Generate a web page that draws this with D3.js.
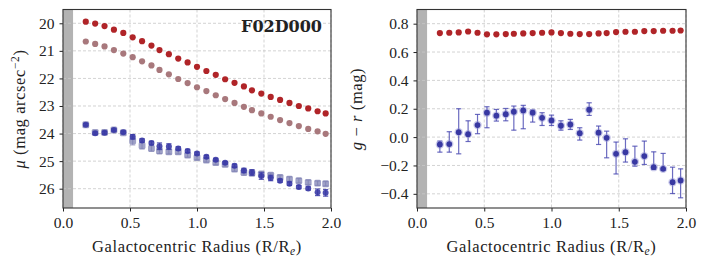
<!DOCTYPE html>
<html>
<head>
<meta charset="utf-8">
<script src="https://cdn.jsdelivr.net/npm/d3@7"></script>
<style>
  body { margin: 0; background: #fff; }
  svg text { font-family: "Liberation Serif", "DejaVu Serif", serif; fill: #222; }
  .grid line { stroke: #c8c8c8; stroke-dasharray: 3,2; stroke-width: 0.8; }
  .axis path { display: none; }
  .axis line { stroke: #222; }
  .lbl { font-size: 16.5px; letter-spacing: 0.6px; }
</style>
</head>
<body>
<div id="chart"></div>
<script>
// radii (R/Re)
var radius = [0.17, 0.24, 0.31, 0.38, 0.45, 0.52, 0.59, 0.66, 0.72, 0.79, 0.86, 0.93, 1.00, 1.07,
              1.14, 1.21, 1.28, 1.35, 1.41, 1.48, 1.55, 1.62, 1.69, 1.76, 1.83, 1.90, 1.96];

// surface brightness, red band
var muRed = [19.94, 20.01, 20.10, 20.23, 20.35, 20.51, 20.65, 20.81, 20.97, 21.12, 21.28, 21.42, 21.58, 21.73,
             21.87, 22.03, 22.16, 22.29, 22.43, 22.55, 22.67, 22.78, 22.89, 23.00, 23.09, 23.19, 23.27];
var muRedPale = [20.66, 20.75, 20.84, 20.97, 21.10, 21.23, 21.38, 21.53, 21.69, 21.85, 22.02, 22.17, 22.32, 22.46,
                 22.61, 22.75, 22.89, 23.03, 23.15, 23.27, 23.39, 23.51, 23.62, 23.73, 23.83, 23.92, 24.01];
// blue band
var muBlue = [23.68, 23.99, 23.97, 23.87, 23.95, 24.12, 24.25, 24.34, 24.46, 24.47, 24.54, 24.63, 24.72, 24.84,
              24.95, 25.06, 25.17, 25.34, 25.41, 25.54, 25.61, 25.71, 25.82, 25.94, 25.99, 26.13, 26.15];
var muBlueErr = [0.04, 0.05, 0.05, 0.04, 0.04, 0.08, 0.06, 0.06, 0.12, 0.10, 0.06, 0.06, 0.05, 0.05,
                 0.05, 0.05, 0.06, 0.08, 0.10, 0.12, 0.10, 0.06, 0.06, 0.06, 0.06, 0.12, 0.12];
var muBluePale = [23.68, 23.96, 23.96, 23.87, 23.97, 24.26, 24.44, 24.54, 24.63, 24.66, 24.66, 24.78, 24.87, 24.96,
                  25.05, 25.12, 25.29, 25.41, 25.43, 25.47, 25.51, 25.59, 25.65, 25.71, 25.77, 25.80, 25.82];
var muBluePaleErr = [0.05, 0.06, 0.08, 0.05, 0.05, 0.15, 0.12, 0.10, 0.10, 0.08, 0.08, 0.08, 0.08, 0.08,
                     0.08, 0.08, 0.08, 0.10, 0.10, 0.10, 0.08, 0.08, 0.08, 0.08, 0.08, 0.08, 0.08];

// colours g-r
var grRed = [0.734, 0.736, 0.738, 0.745, 0.736, 0.725, 0.725, 0.727, 0.729, 0.731, 0.734, 0.736, 0.738, 0.734,
             0.729, 0.727, 0.727, 0.731, 0.734, 0.741, 0.743, 0.743, 0.748, 0.748, 0.750, 0.750, 0.752];
var grBlue = [-0.052, -0.049, 0.035, 0.021, 0.085, 0.172, 0.151, 0.162, 0.179, 0.188, 0.172, 0.136, 0.118, 0.080,
              0.089, 0.028, 0.193, 0.031, -0.005, -0.118, -0.106, -0.174, -0.134, -0.212, -0.224, -0.318, -0.306];
var grBlueHi = [-0.028, 0.038, 0.200, 0.115, 0.160, 0.214, 0.195, 0.202, 0.219, 0.224, 0.191, 0.172, 0.155, 0.115,
                0.125, 0.066, 0.242, 0.078, 0.042, -0.035, -0.012, -0.064, -0.028, -0.104, -0.115, -0.212, -0.224];
var grBlueLo = [-0.106, -0.106, -0.118, -0.031, 0.024, 0.066, 0.113, 0.115, 0.049, 0.059, 0.106, 0.082, 0.082, 0.049,
                0.054, -0.021, 0.153, -0.052, -0.146, -0.260, -0.176, -0.205, -0.193, -0.228, -0.235, -0.398, -0.428];

var xTicks = [0, 0.5, 1.0, 1.5, 2.0];
var muTicks = [20, 21, 22, 23, 24, 25, 26];
var grTicks = [-0.4, -0.2, 0.0, 0.2, 0.4, 0.6, 0.8];
var maskR = 0.075;

var W = 706, H = 265;
var plotTop = 9.5, plotBottom = 208;
var fs = "15.5px";

var svg = d3.select("#chart").append("svg")
    .attr("width", W)
    .attr("height", H);

function panel(x0, x1, yDomain, yTicks, yFmt) {
    var x = d3.scaleLinear().domain([0, 2]).range([x0, x1]);
    var y = d3.scaleLinear().domain(yDomain).range([plotBottom, plotTop]);
    var g = svg.append("g");

    // masked inner region
    g.append("rect")
        .attr("x", x(0)).attr("y", plotTop)
        .attr("width", x(maskR) - x(0)).attr("height", plotBottom - plotTop)
        .attr("fill", "#b3b3b3");

    // grid
    var grid = g.append("g").attr("class", "grid");
    grid.selectAll(".gx").data(xTicks).enter().append("line")
        .attr("x1", function(d) { return x(d); }).attr("x2", function(d) { return x(d); })
        .attr("y1", plotTop).attr("y2", plotBottom);
    grid.selectAll(".gy").data(yTicks).enter().append("line")
        .attr("x1", x0).attr("x2", x1)
        .attr("y1", function(d) { return y(d); }).attr("y2", function(d) { return y(d); });

    var xa = g.append("g").attr("class", "axis")
        .attr("transform", "translate(0," + plotBottom + ")")
        .call(d3.axisBottom(x).tickValues(xTicks).tickFormat(d3.format(".1f")).tickSizeInner(3.5).tickPadding(5));
    xa.selectAll("text").style("font-size", fs);

    var ya = g.append("g").attr("class", "axis")
        .attr("transform", "translate(" + x0 + ",0)")
        .call(d3.axisLeft(y).tickValues(yTicks).tickFormat(yFmt).tickSizeInner(3.5).tickPadding(5));
    ya.selectAll("text").style("font-size", fs);

    g.append("text")
        .attr("class", "lbl")
        .attr("x", (x0 + x1) / 2).attr("y", 252)
        .attr("text-anchor", "middle")
        .html("Galactocentric Radius (R/R<tspan dy='3' font-size='11.5px' font-style='italic'>e</tspan><tspan dy='-3'>)</tspan>");

    return { x: x, y: y, g: g, frame: function() {
        g.append("rect")
            .attr("x", x0).attr("y", plotTop)
            .attr("width", x1 - x0).attr("height", plotBottom - plotTop)
            .attr("fill", "none").attr("stroke", "#333").attr("stroke-width", 1.1);
    } };
}

function errorBars(p, xs, hi, lo, color, opacity, capW) {
    var eb = p.g.append("g").attr("stroke", color).attr("stroke-opacity", opacity).attr("stroke-width", 1.2);
    xs.forEach(function(r, i) {
        var cx = p.x(r);
        eb.append("line").attr("x1", cx).attr("x2", cx).attr("y1", p.y(hi[i])).attr("y2", p.y(lo[i]));
        eb.append("line").attr("x1", cx - capW).attr("x2", cx + capW).attr("y1", p.y(hi[i])).attr("y2", p.y(hi[i]));
        eb.append("line").attr("x1", cx - capW).attr("x2", cx + capW).attr("y1", p.y(lo[i])).attr("y2", p.y(lo[i]));
    });
}

function dots(p, xs, ys, color, r, opacity) {
    p.g.append("g").selectAll("circle").data(xs).enter().append("circle")
        .attr("cx", function(d) { return p.x(d); })
        .attr("cy", function(d, i) { return p.y(ys[i]); })
        .attr("r", r)
        .attr("fill", color)
        .attr("fill-opacity", opacity);
}

// left panel: surface brightness profiles
var L = panel(63, 331, [26.7, 19.5], muTicks, d3.format("d"));

var paleHi = muBluePale.map(function(v, i) { return v - muBluePaleErr[i]; });
var paleLo = muBluePale.map(function(v, i) { return v + muBluePaleErr[i]; });
errorBars(L, radius, paleHi, paleLo, "#7c7cb0", 0.7, 2.6);
L.g.append("g").selectAll("rect").data(radius).enter().append("rect")
    .attr("x", function(d) { return L.x(d) - 3.4; })
    .attr("y", function(d, i) { return L.y(muBluePale[i]) - 3.4; })
    .attr("width", 6.8).attr("height", 6.8).attr("rx", 1.5)
    .attr("fill", "#7f82b4").attr("fill-opacity", 0.75);

var blueHi = muBlue.map(function(v, i) { return v - muBlueErr[i]; });
var blueLo = muBlue.map(function(v, i) { return v + muBlueErr[i]; });
errorBars(L, radius, blueHi, blueLo, "#3b3ba6", 0.85, 2.6);
dots(L, radius, muBlue, "#3b3ba6", 3, 0.9);

dots(L, radius, muRedPale, "#a8787c", 3.1, 1);
dots(L, radius, muRed, "#b02428", 3.1, 1);

L.g.append("text")
    .attr("x", 322).attr("y", 32)
    .attr("text-anchor", "end")
    .style("font-family", "'DejaVu Serif', serif")
    .style("font-weight", "bold")
    .style("font-size", "16px")
    .text("F02D000");

L.g.append("text")
    .attr("class", "lbl")
    .attr("transform", "translate(25,109) rotate(-90)")
    .attr("text-anchor", "middle")
    .html("<tspan font-style='italic'>μ</tspan> (mag arcsec<tspan dy='-6' font-size='11.5px'>−2</tspan><tspan dy='6'>)</tspan>");
L.frame();

// right panel: g - r colour profiles
var R = panel(417, 686, [-0.5, 0.9], grTicks, function(d) { return d3.format(".1f")(d).replace("-", "−"); });

errorBars(R, radius, grBlueHi, grBlueLo, "#4646b0", 0.8, 2.6);
dots(R, radius, grBlue, "#8a8ad0", 4.2, 0.45);
dots(R, radius, grBlue, "#3838a2", 2.9, 1);
dots(R, radius, grRed, "#b02428", 3.1, 1);

R.g.append("text")
    .attr("class", "lbl")
    .attr("transform", "translate(362,109) rotate(-90)")
    .attr("text-anchor", "middle")
    .html("<tspan font-style='italic'>g</tspan> − <tspan font-style='italic'>r</tspan> (mag)");
R.frame();
</script>
</body>
</html>
